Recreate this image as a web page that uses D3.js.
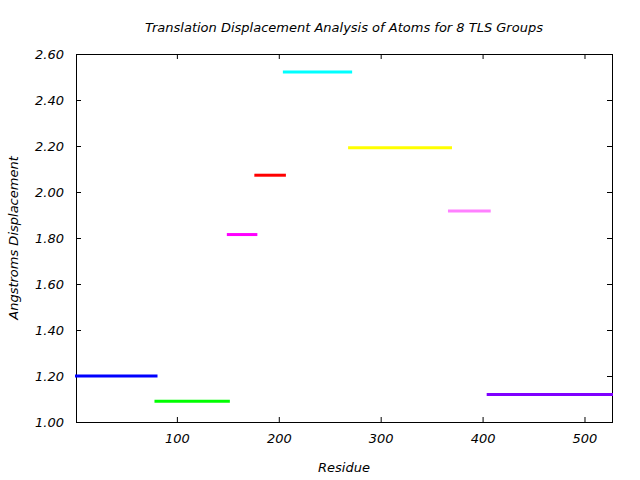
<!DOCTYPE html>
<html>
<head>
<meta charset="utf-8">
<script src="https://cdn.jsdelivr.net/npm/d3@7"></script>
<style>
  body { margin: 0; background: #fff; }
  svg text { font-family: "DejaVu Sans", sans-serif; font-style: italic; fill: #000; }
</style>
</head>
<body>
<div id="chart"></div>
<script>
// TLS group residue ranges and displacement values
const groupStart = [1, 79, 150, 177, 205, 269, 367, 405];
const groupEnd = [80, 151, 178, 206, 271, 369, 407, 527];
const displacement = [1.20, 1.09, 1.815, 2.073, 2.522, 2.192, 1.917, 1.12];
const groupColors = ["#0000ff", "#00ff00", "#ff00ff", "#ff0000", "#00ffff", "#ffff00", "#ff80ff", "#7f00ff"];

const xTicks = [100, 200, 300, 400, 500];
const yTicks = [1.0, 1.2, 1.4, 1.6, 1.8, 2.0, 2.2, 2.4, 2.6];

const width = 640, height = 480;
const margin = { left: 76, right: 28, top: 54, bottom: 58 };

const svg = d3.select("#chart").append("svg")
    .attr("width", width)
    .attr("height", height);

const x = d3.scaleLinear()
    .domain([1, 527])
    .range([margin.left, width - margin.right]);

const y = d3.scaleLinear()
    .domain([1.0, 2.6])
    .range([height - margin.bottom, margin.top]);

// axes (ticks pointing inward, mirrored on top/right)
const tickLen = 5;
const axisBottomG = svg.append("g")
    .attr("transform", `translate(0,${height - margin.bottom})`)
    .call(d3.axisBottom(x).tickValues(xTicks).tickSizeInner(-tickLen).tickSizeOuter(0).tickPadding(12).tickFormat(d3.format("d")));
const axisTopG = svg.append("g")
    .attr("transform", `translate(0,${margin.top})`)
    .call(d3.axisTop(x).tickValues(xTicks).tickSizeInner(-tickLen).tickSizeOuter(0).tickFormat(""));
const axisLeftG = svg.append("g")
    .attr("transform", `translate(${margin.left},0)`)
    .call(d3.axisLeft(y).tickValues(yTicks).tickSizeInner(-tickLen).tickSizeOuter(0).tickPadding(12).tickFormat(d3.format(".2f")));
const axisRightG = svg.append("g")
    .attr("transform", `translate(${width - margin.right},0)`)
    .call(d3.axisRight(y).tickValues(yTicks).tickSizeInner(-tickLen).tickSizeOuter(0).tickFormat(""));

[axisBottomG, axisTopG, axisLeftG, axisRightG].forEach(g => {
    g.select(".domain").remove();
    g.selectAll("line").attr("stroke", "#000").attr("stroke-width", 1);
    g.selectAll("text").attr("font-size", 13).style("font-family", "'DejaVu Sans', sans-serif").style("font-style", "italic");
});

// frame
svg.append("rect")
    .attr("x", margin.left + 0.5)
    .attr("y", margin.top + 0.5)
    .attr("width", width - margin.left - margin.right)
    .attr("height", height - margin.top - margin.bottom)
    .attr("fill", "none")
    .attr("stroke", "#000")
    .attr("stroke-width", 1);

// segments
svg.append("clipPath").attr("id", "plotclip")
    .append("rect")
    .attr("x", margin.left - 2)
    .attr("y", margin.top)
    .attr("width", width - margin.left - margin.right + 4)
    .attr("height", height - margin.top - margin.bottom);

svg.append("g")
    .attr("clip-path", "url(#plotclip)")
    .selectAll("line")
    .data(displacement)
    .join("line")
    .attr("x1", (d, i) => x(groupStart[i]) - 1)
    .attr("x2", (d, i) => x(groupEnd[i]) + 1)
    .attr("y1", d => y(d))
    .attr("y2", d => y(d))
    .attr("stroke", (d, i) => groupColors[i])
    .attr("stroke-width", 3);

// titles
const cx = (margin.left + width - margin.right) / 2;
svg.append("text")
    .attr("x", cx)
    .attr("y", 32)
    .attr("text-anchor", "middle")
    .attr("font-size", 13)
    .text("Translation Displacement Analysis of Atoms for 8 TLS Groups");

svg.append("text")
    .attr("x", cx)
    .attr("y", 472)
    .attr("text-anchor", "middle")
    .attr("font-size", 13)
    .text("Residue");

svg.append("text")
    .attr("transform", `translate(18,${(margin.top + height - margin.bottom) / 2}) rotate(-90)`)
    .attr("text-anchor", "middle")
    .attr("font-size", 13)
    .text("Angstroms Displacement");
</script>
</body>
</html>
